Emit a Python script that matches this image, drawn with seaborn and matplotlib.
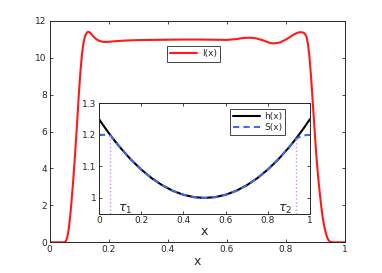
import matplotlib
matplotlib.use('Agg')
import matplotlib.pyplot as plt
import seaborn as sns
import pandas as pd

sns.set_style('ticks')
plt.rcParams['font.family'] = ['DejaVu Sans']

# I(x)
x_main = [0.0, 0.03, 0.05, 0.055, 0.06, 0.065, 0.07, 0.075, 0.08, 0.085, 0.09, 0.095,
          0.1, 0.105, 0.11, 0.115, 0.12, 0.125, 0.13, 0.135, 0.14, 0.15, 0.16, 0.17,
          0.18, 0.19, 0.2, 0.25, 0.3, 0.35, 0.4, 0.45, 0.5, 0.55, 0.6, 0.63, 0.66,
          0.68, 0.7, 0.72, 0.74, 0.75, 0.76, 0.78, 0.8, 0.82, 0.83, 0.84, 0.85, 0.86,
          0.865, 0.87, 0.875, 0.88, 0.885, 0.89, 0.895, 0.9, 0.905, 0.91, 0.915, 0.92,
          0.925, 0.93, 0.935, 0.94, 0.945, 0.95, 0.96, 1.0]
I_vals = [0.0, 0.0, 0.0, 0.05, 0.25, 0.7, 1.4, 2.3, 3.3, 4.4, 5.6, 6.9,
          8.2, 9.3, 10.2, 10.8, 11.15, 11.32, 11.4, 11.38, 11.3, 11.12, 10.98, 10.9,
          10.86, 10.85, 10.86, 10.92, 10.95, 10.96, 10.97, 10.98, 10.98, 10.97, 10.96, 11.0, 11.07,
          11.08, 11.04, 10.95, 10.83, 10.78, 10.77, 10.82, 10.98, 11.18, 11.28, 11.35, 11.38, 11.35,
          11.28, 11.12, 10.7, 10.0, 9.0, 7.8, 6.6, 5.4, 4.3, 3.4, 2.6, 1.9,
          1.3, 0.85, 0.5, 0.25, 0.1, 0.02, 0.0, 0.0]

# inset curves
x_in = [0.0, 0.02, 0.04, 0.05, 0.06, 0.08, 0.1, 0.15, 0.2, 0.25, 0.3, 0.35, 0.4, 0.45,
        0.5, 0.55, 0.6, 0.65, 0.7, 0.75, 0.8, 0.85, 0.9, 0.92, 0.94, 0.96, 0.98, 1.0]
h_vals = [1.25, 1.2304, 1.2116, 1.2025, 1.1936, 1.1764, 1.16, 1.1225, 1.09, 1.0625, 1.04,
          1.0225, 1.01, 1.0025, 1.0, 1.0025, 1.01, 1.0225, 1.04, 1.0625, 1.09, 1.1225,
          1.16, 1.1764, 1.1936, 1.2116, 1.2304, 1.25]
S_vals = [1.2, 1.2, 1.2, 1.199, 1.1936, 1.1764, 1.16, 1.1225, 1.09, 1.0625, 1.04,
          1.0225, 1.01, 1.0025, 1.0, 1.0025, 1.01, 1.0225, 1.04, 1.0625, 1.09, 1.1225,
          1.16, 1.1764, 1.19, 1.196, 1.199, 1.2]
tau = [0.052, 0.932]
tau_top = [1.2, 1.187]
tau_labels = ['$\\tau_1$', '$\\tau_2$']

main_df = pd.DataFrame({'x': x_main, 'I': I_vals})
in_df = pd.DataFrame({'x': x_in, 'h': h_vals, 'S': S_vals})

fig = plt.figure(figsize=(3.82, 2.73), dpi=100)
ax = fig.add_axes([49.5 / 382, 1 - 242.3 / 273, 295.5 / 382, 221.6 / 273])
sns.lineplot(data=main_df, x='x', y='I', ax=ax, color='#ff1a1a', lw=1.5, label='I(x)')
ax.set_xlim(0, 1)
ax.set_ylim(0, 12)
ax.set_xticks([0, 0.2, 0.4, 0.6, 0.8, 1])
ax.set_xticklabels(['0', '0.2', '0.4', '0.6', '0.8', '1'])
ax.set_yticks(range(0, 13, 2))
ax.tick_params(direction='in', length=2.5, labelsize=6.5, top=True, right=True, pad=2, width=0.6)
ax.set_xlabel('x', fontsize=9, labelpad=1)
ax.set_ylabel('')
for s in ax.spines.values():
    s.set_linewidth(0.7)
leg = ax.legend(loc='upper center', bbox_to_anchor=(0.487, 0.905), fontsize=6.5,
                fancybox=False, edgecolor='#444444', handlelength=3, borderpad=0.35,
                handletextpad=0.5, framealpha=1)
leg.get_frame().set_linewidth(0.7)

axi = fig.add_axes([99 / 382, 1 - 213.7 / 273, 211 / 382, 110.4 / 273])
sns.lineplot(data=in_df, x='x', y='h', ax=axi, color='black', lw=1.5, label='h(x)')
sns.lineplot(data=in_df, x='x', y='S', ax=axi, color='#3f66ff', lw=1.5, ls='--',
             label='S(x)', dashes=False)
axi.lines[-1].set_linestyle((0, (3, 2)))
for t, top in zip(tau, tau_top):
    axi.plot([t, t], [0.95, top], color='#cc88ff', ls=':', lw=1)
axi.text(0.09, 0.957, tau_labels[0], fontsize=9)
axi.text(0.85, 0.957, tau_labels[1], fontsize=9)
axi.set_xlim(0, 1)
axi.set_ylim(0.95, 1.3)
axi.set_xticks([0, 0.2, 0.4, 0.6, 0.8, 1])
axi.set_xticklabels(['0', '0.2', '0.4', '0.6', '0.8', '1'])
axi.set_yticks([1, 1.1, 1.2, 1.3])
axi.set_yticklabels(['1', '1.1', '1.2', '1.3'])
axi.tick_params(direction='in', length=2.5, labelsize=6.5, top=True, right=True, pad=2, width=0.6)
axi.set_xlabel('x', fontsize=9, labelpad=0)
axi.set_ylabel('')
for s in axi.spines.values():
    s.set_linewidth(0.7)
leg2 = axi.legend(loc='upper right', bbox_to_anchor=(0.905, 0.985), fontsize=6.5,
                  fancybox=False, edgecolor='#444444', handlelength=3, borderpad=0.3,
                  handletextpad=0.5, labelspacing=0.2, framealpha=1)
leg2.get_frame().set_linewidth(0.7)

fig.savefig('out.png', dpi=100)
